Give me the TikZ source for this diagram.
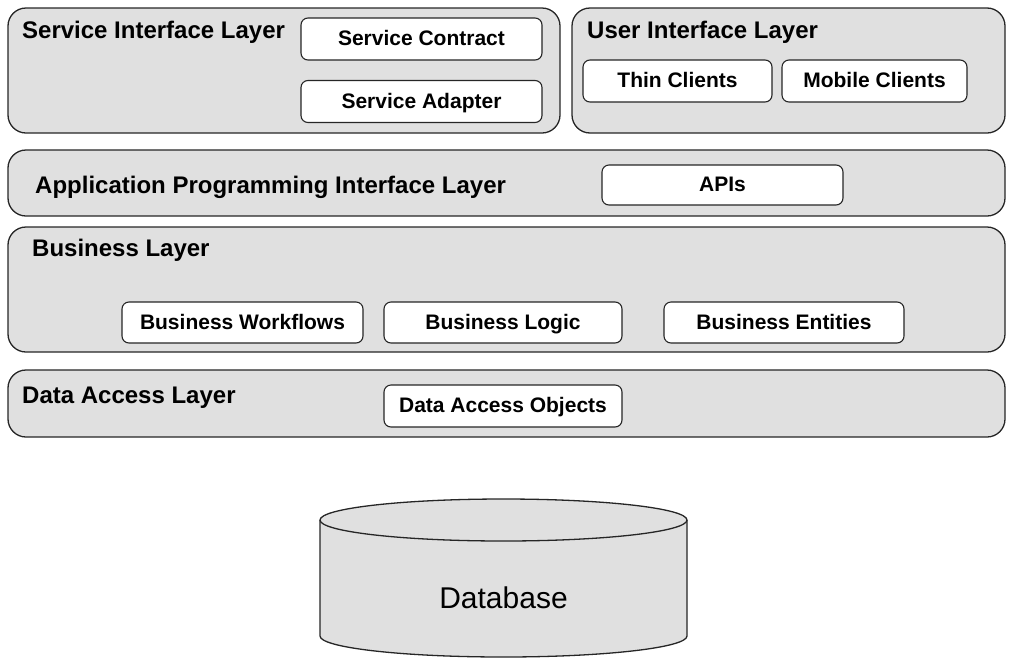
\documentclass[tikz,border=0pt]{standalone}
\usepackage{fontspec}
\setmainfont{Liberation Sans}
\begin{document}
\begin{tikzpicture}[x=1pt,y=-1pt,
  layer/.style={draw=black!85, line width=1.3pt, fill=black!12,
    rounded corners=18pt, inner sep=0pt},
  part/.style={draw=black!85, line width=1.1pt, fill=white,
    rounded corners=7pt, inner sep=0pt, text height=17pt, text depth=3.5pt,
    font=\fontsize{21}{25}\selectfont\bfseries},
  title/.style={anchor=base west, inner sep=0pt, font=\fontsize{24}{29}\selectfont\bfseries}]
\useasboundingbox (0,0) rectangle (1009,662);

% layer frames
\node[layer, minimum width=552, minimum height=125] (sil) at (284,70.5) {};
\node[layer, minimum width=433, minimum height=125] (uil) at (788.5,70.5) {};
\node[layer, minimum width=997, minimum height=66] (api) at (506.5,183) {};
\node[layer, minimum width=997, minimum height=125] (bl) at (506.5,289.5) {};
\node[layer, minimum width=997, minimum height=67] (dal) at (506.5,403.5) {};

% layer titles
\node[title] (silt) at (22,38) {Service Interface Layer};
\node[title] (uilt) at (587,38) {User Interface Layer};
\node[title] (apit) at (35,193) {Application Programming Interface Layer};
\node[title] (blt) at (32,256) {Business Layer};
\node[title] (dalt) at (22,403) {Data Access Layer};

% components inside the layers
\node[part, minimum width=241, minimum height=42] (sc) at (421.5,39) {Service Contract};
\node[part, minimum width=241, minimum height=42] (sa) at (421.5,101.5) {Service Adapter};
\node[part, minimum width=189, minimum height=42] (thin) at (677.5,81) {Thin Clients};
\node[part, minimum width=185, minimum height=42] (mob) at (874.5,81) {Mobile Clients};
\node[part, minimum width=241, minimum height=40] (apis) at (722.5,185) {APIs};
\node[part, minimum width=241, minimum height=41] (bw) at (242.5,322.5) {Business Workflows};
\node[part, minimum width=238, minimum height=41] (blog) at (503,322.5) {Business Logic};
\node[part, minimum width=240, minimum height=41] (be) at (784,322.5) {Business Entities};
\node[part, minimum width=238, minimum height=42] (dao) at (503,406) {Data Access Objects};

% database cylinder
\draw[draw=black!85, line width=1.3pt, fill=black!12]
  (320,520) -- (320,636) arc (180:360:183.5pt and 21pt) -- (687,520)
  arc (0:180:183.5pt and 21pt) -- cycle;
\draw[draw=black!85, line width=1.3pt] (320,520) arc (180:360:183.5pt and 21pt);
\node[inner sep=0pt, font=\fontsize{30}{36}\selectfont] (db) at (503.5,598) {Database};
\end{tikzpicture}
\end{document}
